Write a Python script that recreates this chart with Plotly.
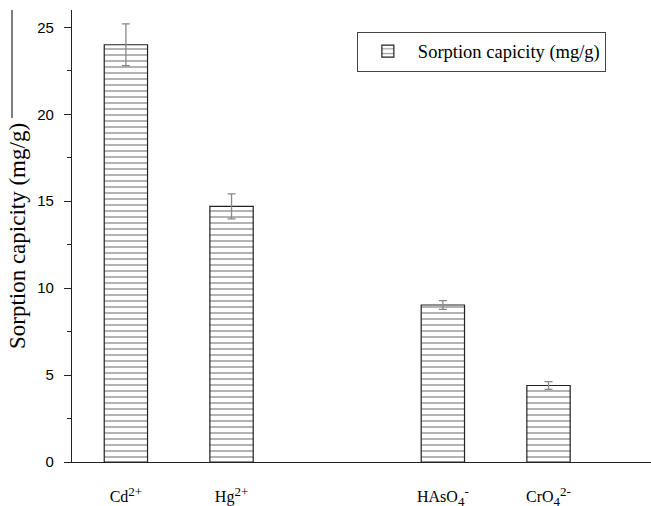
import plotly.graph_objects as go

S = "<span style='font-size:13px'>{}</span>"
categories = ["Cd<sup>" + S.format("2+") + "</sup>",
              "Hg<sup>" + S.format("2+") + "</sup>",
              "HAsO<sub>" + S.format("4") + "</sub><sup>" + S.format("-") + "</sup>",
              "CrO<sub>" + S.format("4") + "</sub><sup>" + S.format("2-") + "</sup>"]
axis_order = [categories[0], categories[1], " ", categories[2], categories[3]]
sorption = [24.0, 14.7, 9.03, 4.4]
errors = [1.2, 0.72, 0.25, 0.22]
series_name = "Sorption capicity (mg/g)"
y_ticks = [0, 5, 10, 15, 20, 25]

fig = go.Figure()
fig.add_trace(go.Bar(
    x=categories, y=sorption, name=series_name,
    width=0.41,
    marker=dict(color="white", line=dict(color="#222", width=1.2),
                pattern=dict(shape="-", fgcolor="#333", bgcolor="white", size=6, solidity=0.25)),
    error_y=dict(type="data", array=errors, color="#888", thickness=1.3, width=4),
    showlegend=True,
))

fig.update_layout(
    width=651, height=506,
    margin=dict(l=72, r=0, t=10, b=44),
    paper_bgcolor="white", plot_bgcolor="white",
    font=dict(family="Liberation Serif", color="black"),
    legend=dict(x=0.492, y=0.952, xanchor="left", yanchor="top",
                bordercolor="#444", borderwidth=1, bgcolor="white",
                itemwidth=50,
                font=dict(family="Liberation Serif", size=18.5)),
    xaxis=dict(type="category", categoryorder="array", categoryarray=axis_order,
               range=[-0.51, 4.97], showline=True, linecolor="#222", linewidth=1.2,
               ticks="", showgrid=False, zeroline=False, automargin=False,
               tickfont=dict(family="Liberation Serif", size=16),
               ticklabelstandoff=20),
    yaxis=dict(range=[0, 26], tickvals=y_ticks, showline=True, linecolor="#222", linewidth=1.2,
               ticks="outside", ticklen=7, tickwidth=1.2, tickcolor="#222",
               minor=dict(ticks="outside", ticklen=4, tickwidth=1.2, tickcolor="#222", dtick=2.5),
               showgrid=False, zeroline=False, ticklabelstandoff=7, automargin=False,
               tickfont=dict(family="Liberation Sans", size=15),
               title=dict(text="Sorption capicity (mg/g)",
                          font=dict(family="Liberation Serif", size=23), standoff=5)),
)

fig.add_shape(type="line", xref="paper", yref="paper", x0=-0.1036, x1=-0.1036, y0=0.761, y1=1.0,
              line=dict(color="black", width=1))

fig.write_html("out.html", config={"displayModeBar": False},
               post_script="document.body.style.margin='0';")
